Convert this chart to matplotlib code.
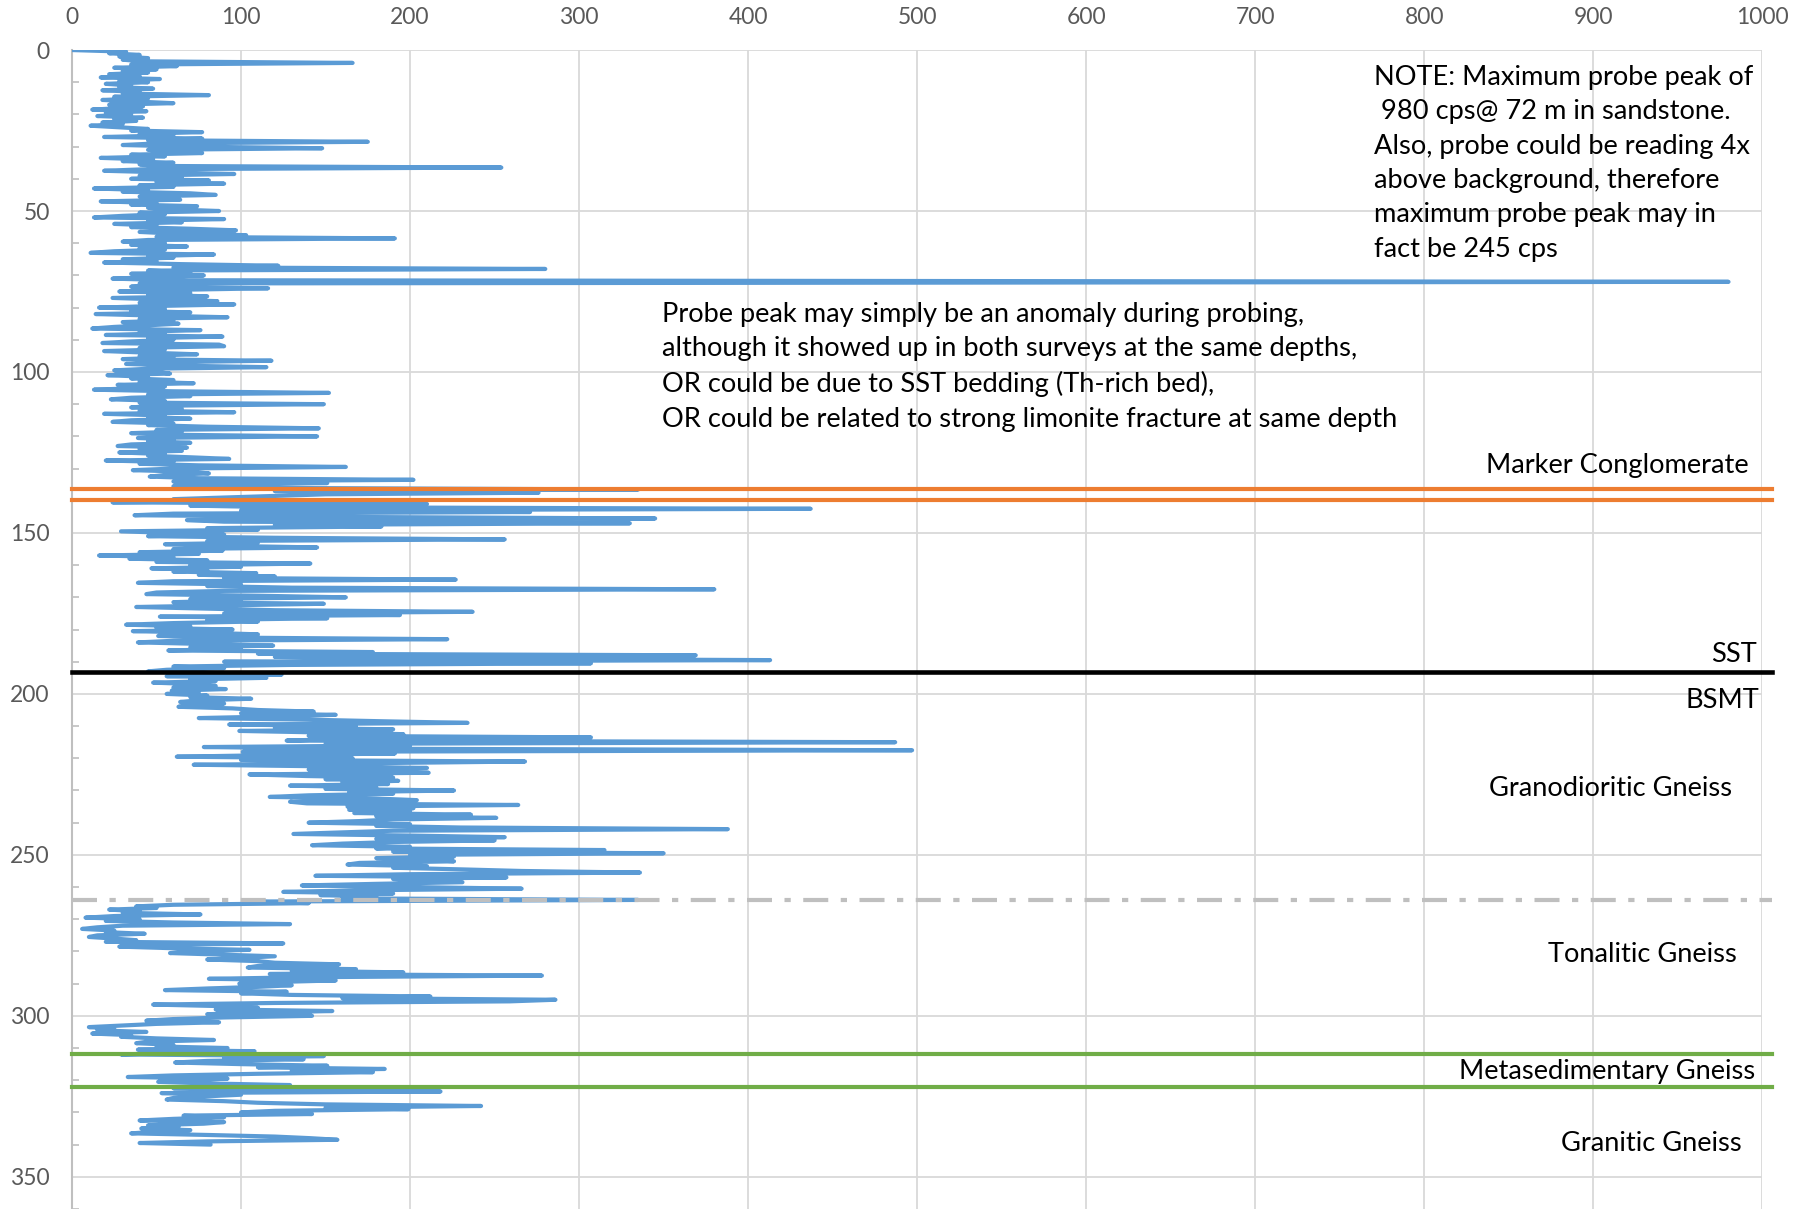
import numpy as np
import matplotlib.pyplot as plt
from matplotlib.ticker import MultipleLocator

plt.rcParams['font.family'] = ['Lato', 'DejaVu Sans']

# gamma probe readings (cps), one every 0.5 m from 0 m down to 340 m
DEPTH_STEP = 0.5
cps = [
    # 0-10 m
    0, 32, 22, 40, 28, 45, 30, 42, 166, 35, 62, 25, 50, 30, 45, 22, 40, 17, 52, 28,
    # 10-20
    45, 20, 35, 28, 48, 18, 40, 30, 81, 25, 45, 18, 38, 60, 22, 42, 30, 12, 44, 20,
    # 20-30
    35, 15, 42, 25, 38, 18, 30, 11, 28, 45, 35, 77, 40, 60, 19, 77, 45, 175, 50, 30,
    # 30-40
    70, 148, 45, 60, 77, 35, 55, 17, 48, 30, 60, 40, 50, 254, 45, 19, 55, 96, 40, 65,
    # 40-50
    35, 81, 50, 90, 40, 60, 13, 45, 30, 70, 85, 40, 55, 64, 17, 50, 35, 74, 45, 60,
    # 50-60
    87, 40, 55, 30, 13, 90, 45, 65, 25, 50, 35, 70, 97, 40, 60, 103, 50, 191, 45, 30,
    # 60-70
    55, 35, 68, 40, 55, 25, 11, 84, 45, 60, 30, 50, 19, 65, 122, 60, 280, 45, 70, 35,
    # 70-80
    78, 50, 24, 60, 980, 40, 55, 35, 116, 60, 28, 70, 45, 80, 24, 55, 86, 40, 96, 50,
    # 80-90
    16, 55, 35, 70, 14, 50, 92, 40, 60, 30, 63, 45, 25, 12, 76, 40, 55, 20, 89, 45,
    # 90-100
    60, 35, 18, 87, 90, 40, 55, 19, 45, 74, 40, 60, 30, 118, 50, 32, 60, 115, 45, 25,
    # 100-110
    50, 58, 21, 45, 35, 60, 40, 72, 27, 55, 40, 13, 60, 152, 45, 70, 35, 23, 55, 40,
    # 110-120
    149, 50, 35, 65, 40, 96, 19, 55, 45, 70, 35, 24, 60, 45, 80, 146, 50, 65, 35, 60,
    # 120-130
    145, 39, 60, 45, 70, 35, 27, 68, 40, 65, 28, 55, 45, 70, 93, 20, 60, 40, 75, 162,
    # 130-140
    60, 36, 70, 81, 55, 46, 75, 202, 60, 151, 90, 60, 110, 335, 120, 276, 150, 120, 90, 60,
    # 140-150
    110, 24, 210, 70, 120, 437, 100, 271, 60, 37, 150, 345, 68, 90, 330, 120, 183, 80, 110, 29,
    # 150-160
    60, 90, 45, 120, 256, 80, 110, 55, 90, 145, 60, 89, 40, 75, 16, 60, 34, 80, 50, 141,
    # 160-170
    70, 100, 47, 80, 60, 109, 75, 120, 90, 227, 60, 39, 100, 80, 130, 380, 90, 50, 44, 110,
    # 170-180
    162, 70, 100, 60, 149, 90, 38, 80, 120, 237, 90, 194, 52, 151, 80, 110, 60, 32, 70, 50,
    # 180-190
    95, 36, 80, 110, 51, 90, 222, 60, 39, 80, 119, 70, 100, 57, 178, 110, 369, 120, 186, 413,
    # 190-200
    90, 307, 129, 60, 90, 56, 45, 80, 124, 56, 115, 70, 85, 48, 75, 85, 60, 91, 59, 75,
    # 200-210
    56, 80, 70, 106, 75, 64, 90, 70, 63, 95, 110, 143, 100, 156, 120, 75, 140, 184, 234, 93,
    # 210-220
    168, 120, 190, 99, 150, 196, 140, 307, 160, 127, 487, 150, 200, 78, 160, 497, 101, 191, 120, 62,
    # 220-230
    166, 100, 268, 180, 72, 150, 210, 140, 180, 211, 105, 138, 190, 150, 193, 160, 187, 129, 180, 150,
    # 230-240
    226, 164, 190, 140, 117, 180, 204, 129, 139, 264, 163, 202, 164, 200, 167, 236, 180, 251, 190, 170,
    # 240-250
    140, 200, 180, 230, 388, 190, 160, 131, 200, 256, 180, 250, 190, 160, 142, 200, 180, 315, 190, 350,
    # 250-260
    200, 226, 180, 210, 226, 170, 163, 210, 190, 230, 266, 336, 200, 144, 257, 190, 210, 231, 180, 136,
    # 260-270
    200, 266, 170, 125, 190, 147, 180, 160, 335, 105, 140, 60, 38, 50, 22, 40, 30, 76, 25, 8,
    # 270-280
    40, 20, 60, 129, 30, 15, 6, 25, 20, 43, 15, 10, 25, 38, 20, 125, 40, 28, 60, 105,
    # 280-290
    70, 58, 90, 120, 100, 80, 110, 120, 158, 110, 104, 168, 130, 196, 117, 278, 140, 81, 156, 120,
    # 290-300
    99, 130, 110, 80, 55, 127, 100, 130, 212, 160, 286, 259, 120, 48, 90, 110, 85, 154, 110, 80,
    # 300-310
    142, 90, 60, 44, 87, 50, 30, 10, 25, 15, 44, 12, 35, 29, 50, 84, 45, 38, 60, 50,
    # 310-320
    92, 39, 108, 60, 29, 149, 90, 137, 80, 61, 100, 151, 110, 185, 130, 178, 110, 60, 33, 92,
    # 320-330
    70, 51, 80, 129, 100, 60, 90, 218, 53, 100, 80, 60, 56, 90, 110, 150, 242, 150, 199, 120,
    # 330-340
    100, 142, 66, 90, 60, 40, 90, 78, 45, 63, 41, 70, 50, 35, 80, 120, 141, 157, 80, 40,
    # 340
    82,
]
depth = np.arange(len(cps)) * DEPTH_STEP

# contacts between units (m)
marker_top, marker_base = 136.5, 139.8
sst_base = 193.3
grano_base = 264.0
meta_top, meta_base = 311.7, 322.1

fig = plt.figure(figsize=(18.09, 12.09), dpi=100)
ax = fig.add_axes([0.0398, 0.0, 0.9344, 0.9586])

ax.plot(cps, depth, color='#5B9BD5', lw=3.0, solid_capstyle='round',
        solid_joinstyle='round', zorder=3)

x_end = 1006
ax.plot([0, x_end], [marker_top] * 2, color='#ED7D31', lw=3, clip_on=False, zorder=4)
ax.plot([0, x_end], [marker_base] * 2, color='#ED7D31', lw=3, clip_on=False, zorder=4)
ax.plot([0, x_end], [sst_base] * 2, color='black', lw=3.3, clip_on=False, zorder=4)
ax.plot([0, x_end], [grano_base] * 2, color='#BFBFBF', lw=3,
        dashes=(6, 3, 1.5, 3), clip_on=False, zorder=4)
ax.plot([0, x_end], [meta_top] * 2, color='#70AD47', lw=3, clip_on=False, zorder=4)
ax.plot([0, x_end], [meta_base] * 2, color='#70AD47', lw=3, clip_on=False, zorder=4)

ax.set_xlim(0, 1000)
ax.set_ylim(360, 0)
ax.xaxis.tick_top()
ax.xaxis.set_major_locator(MultipleLocator(100))
ax.yaxis.set_major_locator(MultipleLocator(50))
ax.yaxis.set_minor_locator(MultipleLocator(10))
ax.grid(True, which='major', color='#D9D9D9', lw=1.3, zorder=0)
ax.set_axisbelow(True)
for side in ['top', 'right', 'bottom']:
    ax.spines[side].set_visible(False)
ax.spines['left'].set_color('#BFBFBF')
ax.spines['left'].set_linewidth(1.5)
ax.tick_params(axis='both', which='major', length=0, labelsize=16.5,
               labelcolor='#595959')
ax.tick_params(axis='x', which='major', pad=16)
ax.tick_params(axis='y', which='major', pad=16)
ax.tick_params(axis='y', which='minor', length=5, width=1.2, color='#BFBFBF',
               direction='in')

txt = dict(fontsize=19.6, color='black', zorder=5)
ax.text(770, 4.6,
        'NOTE: Maximum probe peak of\n 980 cps@ 72 m in sandstone.\n'
        'Also, probe could be reading 4x\nabove background, therefore\n'
        'maximum probe peak may in\nfact be 245 cps',
        ha='left', va='top', linespacing=1.47, **txt)
ax.text(349, 78.2,
        'Probe peak may simply be an anomaly during probing,\n'
        'although it showed up in both surveys at the same depths,\n'
        'OR could be due to SST bedding (Th-rich bed),\n'
        'OR could be related to strong limonite fracture at same depth',
        ha='left', va='top', linespacing=1.47, **txt)

ax.text(992, 129.0, 'Marker Conglomerate', ha='right', va='center', **txt)
ax.text(997, 187.8, 'SST', ha='right', va='center', **txt)
ax.text(998, 202.1, 'BSMT', ha='right', va='center', **txt)
ax.text(982, 229.3, 'Granodioritic Gneiss', ha='right', va='center', **txt)
ax.text(985, 281.0, 'Tonalitic Gneiss', ha='right', va='center', **txt)
ax.text(996, 317.3, 'Metasedimentary Gneiss', ha='right', va='center', **txt)
ax.text(988, 339.5, 'Granitic Gneiss', ha='right', va='center', **txt)

fig.savefig('out.png', dpi=100)
